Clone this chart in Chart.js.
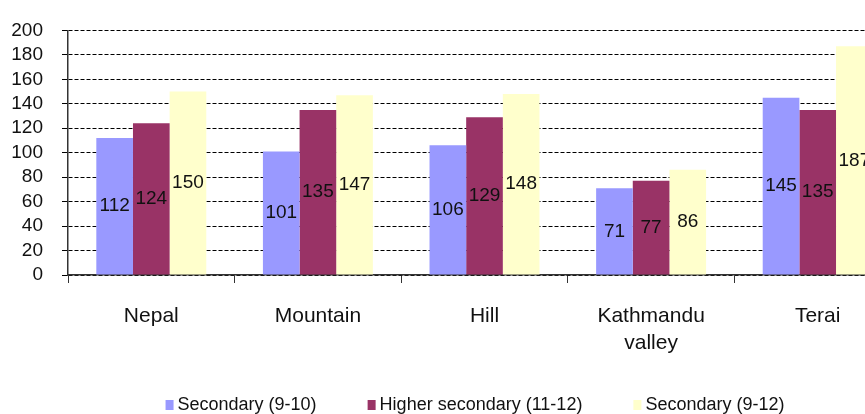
<!DOCTYPE html>
<html lang="en">
<head>
    <meta charset="UTF-8">
    <title>Secondary enrolment chart</title>
    <script src="https://cdn.jsdelivr.net/npm/chart.js"></script>
    <style>
        body, html {
            margin: 0;
            background-color: #fff;
            overflow: hidden; /* chart runs past the window on the right */
        }
        #wrap {
            width: 865px;
            height: 414px;
            overflow: hidden;
        }
    </style>
</head>
<body>
<div id="wrap">
    <canvas id="myBarChart" width="910" height="414"></canvas>
</div>
<script>
    const FONT = "'Liberation Sans', Arial, sans-serif";

    const regions = ['Nepal', 'Mountain', 'Hill', ['Kathmandu', 'valley'], 'Terai'];
    const secondary910 = [112, 101, 106, 71, 145];
    const higherSecondary1112 = [124, 135, 129, 77, 135];
    const secondary912 = [150, 147, 148, 86, 187];
    const seriesNames = ['Secondary (9-10)', 'Higher secondary (11-12)', 'Secondary (9-12)'];
    const yTicks = [0, 20, 40, 60, 80, 100, 120, 140, 160, 180, 200];

    // write each value in the middle of its bar
    const barValueLabels = {
        id: 'barValueLabels',
        afterDatasetsDraw(chart) {
            const ctx = chart.ctx;
            ctx.save();
            ctx.font = '19px ' + FONT;
            ctx.fillStyle = '#111';
            ctx.textAlign = 'center';
            ctx.textBaseline = 'middle';
            chart.data.datasets.forEach((ds, i) => {
                chart.getDatasetMeta(i).data.forEach((bar, j) => {
                    ctx.fillText(ds.data[j], bar.x, (bar.y + bar.base) / 2);
                });
            });
            ctx.restore();
        }
    };

    // legend row under the chart, drawn by hand so the gaps match the original
    const bottomLegend = {
        id: 'bottomLegend',
        afterDraw(chart) {
            const ctx = chart.ctx;
            const centerX = 475, y = 405, boxW = 8, boxH = 10, textGap = 4, gap = 51;
            ctx.save();
            ctx.font = '18px ' + FONT;
            ctx.textBaseline = 'middle';
            ctx.textAlign = 'left';
            const items = chart.data.datasets.map(ds => ({
                text: ds.label,
                color: ds.backgroundColor,
                w: boxW + textGap + ctx.measureText(ds.label).width
            }));
            const total = items.reduce((s, it) => s + it.w, 0) + gap * (items.length - 1);
            let x = centerX - total / 2;
            items.forEach(it => {
                ctx.fillStyle = it.color;
                ctx.fillRect(x, y - boxH / 2, boxW, boxH);
                ctx.fillStyle = '#111';
                ctx.fillText(it.text, x + boxW + textGap, y);
                x += it.w + gap;
            });
            ctx.restore();
        }
    };

    const ctxBar = document.getElementById('myBarChart').getContext('2d');
    const myBarChart = new Chart(ctxBar, {
        type: 'bar',
        data: {
            labels: regions,
            datasets: [
                { label: seriesNames[0], data: secondary910, backgroundColor: '#9999ff' },
                { label: seriesNames[1], data: higherSecondary1112, backgroundColor: '#993366' },
                { label: seriesNames[2], data: secondary912, backgroundColor: '#ffffcc' }
            ]
        },
        options: {
            responsive: false,
            animation: false,
            categoryPercentage: 0.66,
            barPercentage: 1.0,
            layout: {
                padding: { top: 29, left: 8, right: 9, bottom: 55 }
            },
            plugins: {
                tooltip: { enabled: false },
                legend: { display: false }
            },
            scales: {
                x: {
                    grid: {
                        drawOnChartArea: false,
                        drawTicks: true,
                        tickLength: 8,
                        color: '#333'
                    },
                    border: { display: true, color: '#333', width: 1.5 },
                    ticks: {
                        color: '#111',
                        padding: 20,
                        maxRotation: 0,
                        autoSkip: false,
                        font: { family: FONT, size: 21, lineHeight: 1.29 }
                    },
                    afterFit: (scale) => { scale.height = 84; }
                },
                y: {
                    min: yTicks[0],
                    max: yTicks[yTicks.length - 1],
                    grid: {
                        color: '#000',
                        lineWidth: 1,
                        tickLength: 6
                    },
                    border: { display: true, color: '#333', width: 1.5, dash: [4, 2] },
                    ticks: {
                        stepSize: yTicks[1] - yTicks[0],
                        autoSkip: false,
                        color: '#111',
                        padding: 19,
                        font: { family: FONT, size: 19 }
                    },
                    afterFit: (scale) => { scale.width = 60; }
                }
            }
        },
        plugins: [barValueLabels, bottomLegend]
    });
</script>
</body>
</html>
